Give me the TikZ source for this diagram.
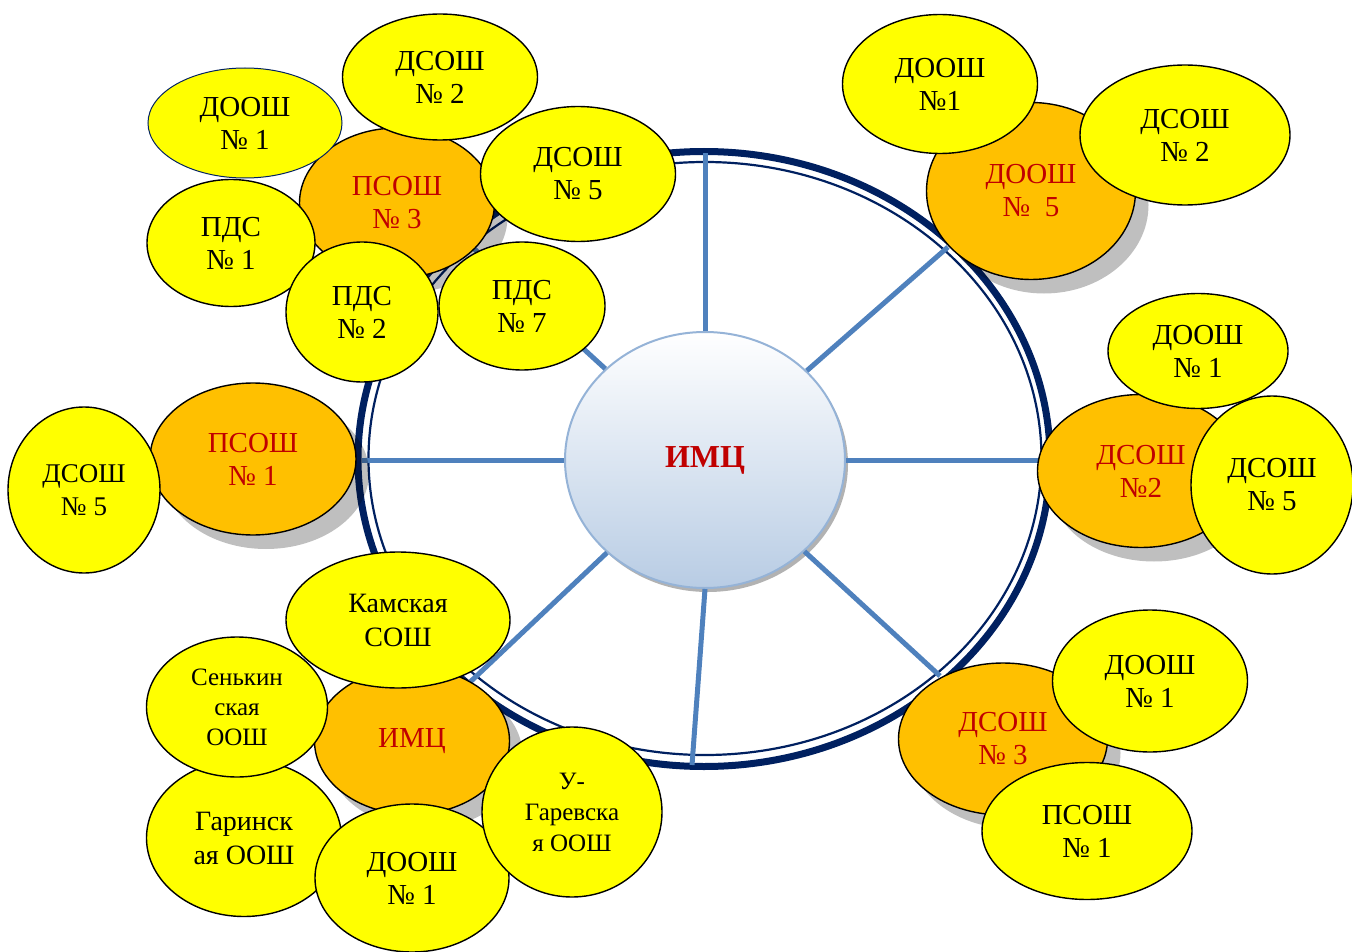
\documentclass[tikz,border=0pt]{standalone}
\usepackage{fontspec}
\setmainfont{Liberation Serif}
\usetikzlibrary{shapes.geometric,shadows}
\definecolor{navy}{RGB}{0,32,96}
\definecolor{spokec}{RGB}{79,129,189}
\definecolor{orng}{RGB}{255,192,0}
\definecolor{yelc}{RGB}{255,255,0}
\definecolor{dred}{RGB}{192,0,0}
\definecolor{cborder}{RGB}{149,179,215}
\definecolor{cbot}{RGB}{184,204,228}
\tikzset{
  bub/.style={ellipse, draw=black, line width=1.4pt, inner sep=0pt, align=center,
    font=\fontsize{29}{33}\selectfont},
  yb/.style={bub, fill=yelc},
  ob/.style={bub, fill=orng, text=dred,
    drop shadow={shadow xshift=13pt, shadow yshift=-14pt, opacity=0.25, fill=black}},
  spk/.style={draw=spokec, line width=5pt},
  ringthick/.style={draw=navy, line width=7pt},
  ringthin/.style={draw=navy, line width=2.2pt},
}
\begin{document}
\begin{tikzpicture}[x=1pt,y=-1pt]
\useasboundingbox (0,0) rectangle (1352,952);
% ring
\draw[ringthick] (704,459) ellipse [x radius=346pt, y radius=307.5pt];
\draw[ringthin] (705,458.5) ellipse [x radius=336.5pt, y radius=296.5pt];
% centre
\node[ellipse, minimum width=280, minimum height=256, draw=cborder, line width=2pt,
  top color=white, bottom color=cbot, text=dred,
  font=\fontsize{32}{36}\selectfont\bfseries,
  drop shadow={shadow xshift=3pt, shadow yshift=-4pt, opacity=0.3, fill=black}] (imc) at (705,460) {ИМЦ};
% spokes
\coordinate (s1) at (705,153);
\coordinate (s2) at (948,247);
\coordinate (s3) at (1046,460);
\coordinate (s4) at (940,676);
\coordinate (s5) at (692,765);
\coordinate (s6) at (468,684);
\coordinate (s7) at (362,460);
\coordinate (s8) at (470,245);
\draw[spk] (imc) -- (s1);
\draw[spk] (imc) -- (s2);
\draw[spk] (imc) -- (s3);
\draw[spk] (imc) -- (s4);
\draw[spk] (imc.south) -- (s5);
\draw[spk] (imc) -- (s6);
\draw[spk] (imc) -- (s7);
\draw[spk] (imc) -- (s8);
% top-left cluster
\node[ob, minimum width=195, minimum height=150] (psosh3) at (397,203) {ПСОШ\\№ 3};
\node[yb, minimum width=194, minimum height=110, draw=navy, line width=1pt] (tl1) at (245,123) {ДООШ\\№ 1};
\node[yb, minimum width=195, minimum height=126] (tl2) at (440,77) {ДСОШ\\№ 2};
\node[yb, minimum width=195, minimum height=135] (tl5) at (578,174) {ДСОШ\\№ 5};
\node[yb, minimum width=168, minimum height=127] (tlp1) at (231,243) {ПДС\\№ 1};
\node[yb, minimum width=166, minimum height=128] (tlp7) at (522,306) {ПДС\\№ 7};
\node[yb, minimum width=152, minimum height=140] (tlp2) at (362,312) {ПДС\\№ 2};
% left cluster
\node[ob, minimum width=206, minimum height=152] (psosh1) at (253,459) {ПСОШ\\№ 1};
\node[yb, minimum width=152, minimum height=166, font=\fontsize{27}{33}\selectfont] (l5) at (84,490) {ДСОШ\\№ 5};
% top-right cluster
\node[ob, minimum width=209, minimum height=177] (doosh5) at (1031,191) {ДООШ\\№\ \ 5};
\node[yb, minimum width=195, minimum height=139] (tr1) at (940,84) {ДООШ\\№1};
\node[yb, minimum width=210, minimum height=140] (tr2) at (1185,135) {ДСОШ\\№ 2};
% right cluster
\node[ob, minimum width=207, minimum height=153] (dsosh2) at (1141,471) {ДСОШ\\№2};
\node[yb, minimum width=180, minimum height=115] (r1) at (1198,351) {ДООШ\\№ 1};
\node[yb, minimum width=162, minimum height=178] (r5) at (1272,485) {ДСОШ\\№ 5};
% bottom-right cluster
\node[ob, minimum width=209, minimum height=152] (dsosh3) at (1003,739) {ДСОШ\\№ 3};
\node[yb, minimum width=195, minimum height=142] (br1) at (1150,681) {ДООШ\\№ 1};
\node[yb, minimum width=210, minimum height=137] (brp1) at (1087,831) {ПСОШ\\№ 1};
% bottom-left cluster
\node[ob, minimum width=195, minimum height=147] (imc2) at (412,741) {ИМЦ};
\node[yb, minimum width=224, minimum height=136, font=\fontsize{28}{34}\selectfont] (kam) at (398,620) {Камская\\СОШ};
\node[yb, minimum width=195, minimum height=157, font=\fontsize{28}{34}\selectfont] (gar) at (244,838) {Гаринск\\ая ООШ};
\node[yb, minimum width=194, minimum height=148] (bl1) at (412,878) {ДООШ\\№ 1};
\node[yb, minimum width=181, minimum height=140, font=\fontsize{25}{30}\selectfont] (sen) at (237,707) {Сенькин\\ская\\ООШ};
\node[yb, minimum width=180, minimum height=170, font=\fontsize{25}{31}\selectfont] (ugar) at (572,812) {У-\\Гаревска\\я ООШ};
\end{tikzpicture}
\end{document}
